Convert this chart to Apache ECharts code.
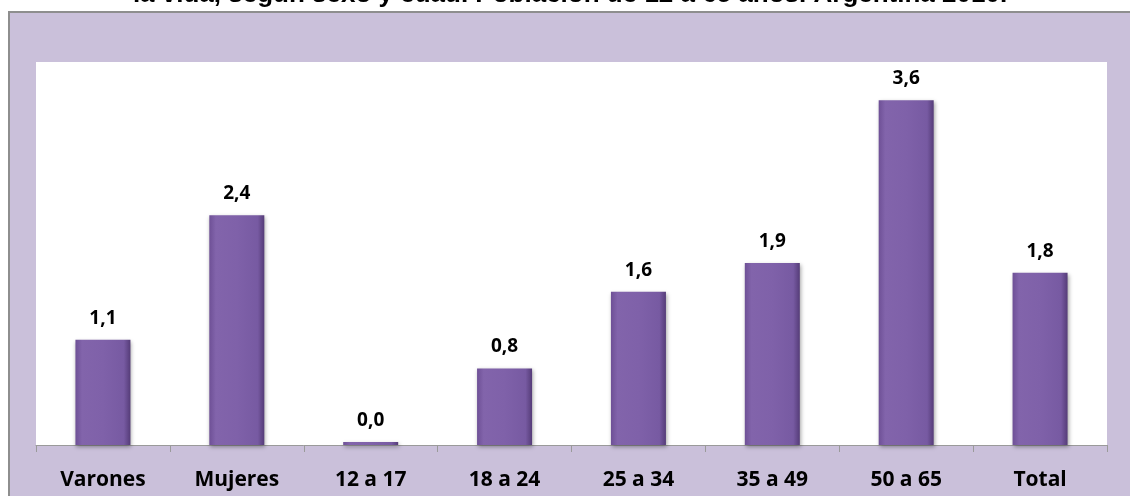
<!DOCTYPE html>
<html><head><meta charset="utf-8">
<script src="https://cdn.jsdelivr.net/npm/echarts@6/dist/echarts.min.js"></script>
<style>html,body{margin:0;padding:0;background:#fff}#c{width:1130px;height:496px}</style>
</head><body><div id="c"></div>
<script>
const titleText = 'la vida, según sexo y edad. Población de 12 a 65 años. Argentina 2010.';
const categories = ['Varones','Mujeres','12 a 17','18 a 24','25 a 34','35 a 49','50 a 65','Total'];
const values = [1.1, 2.4, 0.0, 0.8, 1.6, 1.9, 3.6, 1.8];

const chart = echarts.init(document.getElementById('c'), null, {renderer:'canvas'});
chart.setOption({
  backgroundColor: '#ffffff',
  animation: false,
  graphic: [
    {type:'rect', z:-10, shape:{x:9, y:12, width:1140, height:500},
     style:{fill:'#CAC0DA', stroke:'#8e8e8e', lineWidth:2}},
    {type:'text', z:-20, x:570, y:8,
     style:{text:titleText, font:'bold 26px "Liberation Sans", Arial, sans-serif', fill:'#000',
            align:'center', verticalAlign:'bottom'}}
  ],
  grid: {left:36, right:23, top:62, bottom:51, show:true, backgroundColor:'#ffffff', borderWidth:0},
  xAxis: {
    type:'category', data:categories,
    axisLine:{lineStyle:{color:'#9a9a9a', width:1}},
    axisTick:{show:true, length:7, lineStyle:{color:'#9a9a9a'}},
    axisLabel:{color:'#000', fontFamily:'"Open Sans", sans-serif', fontWeight:'bold', fontSize:21, margin:25}
  },
  yAxis: {type:'value', min:0, max:4, show:false, splitLine:{show:false}},
  series: [{
    type:'bar', data:values, barWidth:55, barMinHeight:3,
    itemStyle:{
      color:{type:'linear', x:0, y:0, x2:1, y2:0, colorStops:[
        {offset:0, color:'#6e5096'},{offset:0.12, color:'#8264ab'},
        {offset:0.5, color:'#7f61a9'},{offset:0.88, color:'#775aa2'},{offset:1, color:'#553c78'}]},
      shadowColor:'rgba(0,0,0,0.35)', shadowBlur:4, shadowOffsetX:1, shadowOffsetY:2
    },
    label:{show:true, position:'top', distance:12, color:'#000',
      fontFamily:'"Open Sans", sans-serif', fontWeight:'bold', fontSize:19,
      formatter: p => p.value.toFixed(1).replace('.', ',')}
  }]
});
</script></body></html>
